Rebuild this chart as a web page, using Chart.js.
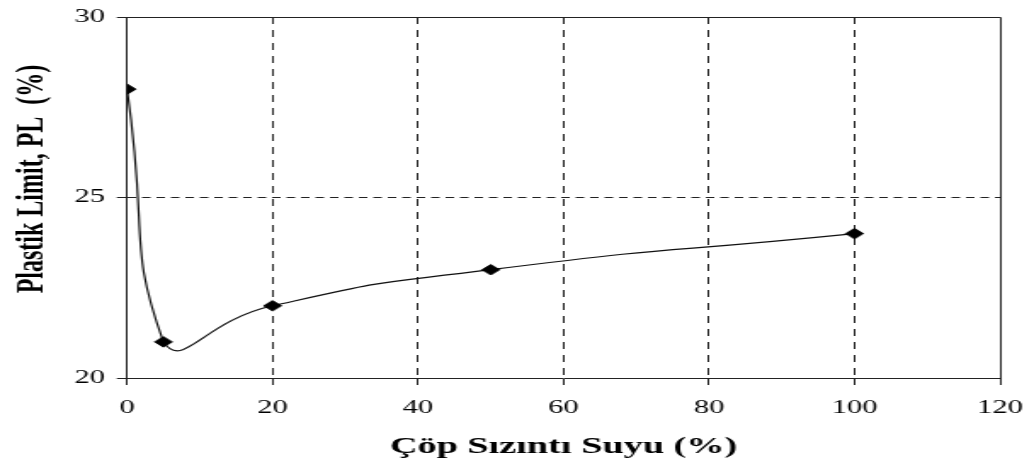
<!DOCTYPE html>
<html>
<head>
<meta charset="utf-8">
<script src="https://cdn.jsdelivr.net/npm/chart.js@4.4.1/dist/chart.umd.min.js"></script>
<style>
  html, body { margin: 0; padding: 0; background: #fff; overflow: hidden; }
  /* the figure is laid out narrow and widened horizontally */
  #wrap { width: 608px; height: 466px; transform: scaleX(1.70066); transform-origin: 0 0; }
  canvas { display: block; }
</style>
</head>
<body>
<div id="wrap"><canvas id="c" width="608" height="466"></canvas></div>
<script>
// Leachate content (%) and measured plastic limit (%)
const leachate = [0, 5, 20, 50, 100];
const plasticLimit = [28, 21, 22, 23, 24];

// Axis ticks
const xTicks = [0, 20, 40, 60, 80, 100, 120];
const yTicks = [20, 25, 30];

const xTitle = 'Çöp Sızıntı Suyu (%)';
const yTitle = 'Plastik Limit, PL  (%)';

const serif = '"Liberation Serif", "Times New Roman", serif';

// Closed frame around the plot (top and right edges)
const framePlugin = {
  id: 'frame',
  afterDraw(chart) {
    const { ctx, chartArea: a } = chart;
    ctx.save();
    ctx.strokeStyle = '#222';
    ctx.lineWidth = 1;
    const l = Math.round(a.left), r = Math.round(a.right) + 0.5;
    const t = Math.round(a.top) + 0.5, b = Math.round(a.bottom);
    ctx.beginPath();
    ctx.moveTo(l, t); ctx.lineTo(r, t); ctx.lineTo(r, b);
    ctx.stroke();
    ctx.restore();
  }
};

// Vertical axis title, placed slightly above the plot's middle
const yTitlePlugin = {
  id: 'yTitle',
  afterDraw(chart) {
    const { ctx } = chart;
    ctx.save();
    ctx.translate(24.7, 179);
    ctx.rotate(-Math.PI / 2);
    ctx.font = 'bold 24px ' + serif;
    ctx.fillStyle = '#000';
    ctx.textAlign = 'center';
    ctx.textBaseline = 'alphabetic';
    ctx.fillText(yTitle, 0, 0);
    ctx.restore();
  }
};

const edgeTransparent = (edges) => (ctx) =>
  (ctx.tick && edges.includes(ctx.tick.value)) ? 'rgba(0,0,0,0)' : '#222';

new Chart(document.getElementById('c'), {
  type: 'line',
  data: {
    datasets: [{
      data: leachate.map((x, i) => ({ x: x, y: plasticLimit[i] })),
      borderColor: '#111',
      borderWidth: 1.2,
      tension: 0.6,
      fill: false,
      pointStyle: 'rectRot',
      pointRadius: 5.3,
      pointBorderWidth: 0.8,
      pointBackgroundColor: '#000',
      pointBorderColor: '#000'
    }]
  },
  options: {
    responsive: false,
    animation: false,
    devicePixelRatio: 1,
    layout: { padding: { top: 17, right: 20, left: 0, bottom: 0 } },
    plugins: { legend: { display: false }, tooltip: { enabled: false } },
    scales: {
      x: {
        type: 'linear',
        min: 0, max: 120,
        afterBuildTicks: (s) => { s.ticks = xTicks.map(v => ({ value: v })); },
        afterFit: (s) => { s.height = 88; s.paddingLeft = 0; s.paddingRight = 0; },
        border: { display: true, color: '#222', width: 1, dash: [7, 6] },
        grid: {
          color: edgeTransparent([0, 120]),
          lineWidth: 1,
          drawTicks: true,
          tickLength: 7,
          tickColor: '#222',
          tickWidth: 1
        },
        ticks: {
          color: '#000',
          font: { family: serif, size: 18 },
          padding: 12,
          maxRotation: 0
        },
        title: {
          display: true,
          text: xTitle,
          color: '#000',
          font: { family: serif, size: 22.5, weight: 'bold' },
          padding: { top: 0, bottom: 5 }
        }
      },
      y: {
        type: 'linear',
        min: 20, max: 30,
        afterBuildTicks: (s) => { s.ticks = yTicks.map(v => ({ value: v })); },
        afterFit: (s) => { s.width = 74.7; s.paddingTop = 0; s.paddingBottom = 0; },
        border: { display: true, color: '#222', width: 1, dash: [5, 3.5] },
        grid: {
          color: edgeTransparent([20, 30]),
          lineWidth: 1,
          drawTicks: true,
          tickLength: 6,
          tickColor: '#222',
          tickWidth: 1
        },
        ticks: {
          color: '#000',
          font: { family: serif, size: 18 },
          padding: 7
        }
      }
    }
  },
  plugins: [framePlugin, yTitlePlugin]
});
</script>
</body>
</html>
